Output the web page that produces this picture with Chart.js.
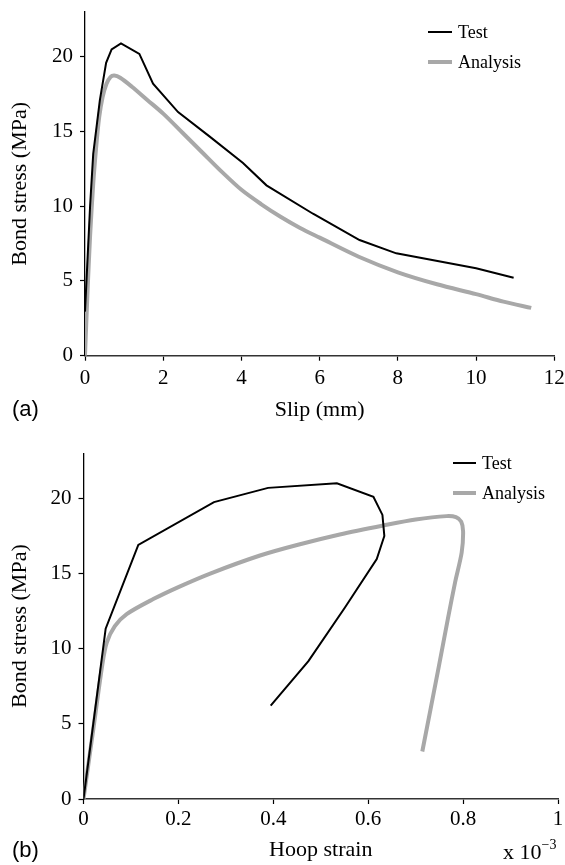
<!DOCTYPE html>
<html>
<head>
<meta charset="utf-8">
<script src="https://cdn.jsdelivr.net/npm/chart.js@4"></script>
<style>
  html, body { margin:0; padding:0; background:#fff; }
  #wrap { position:relative; width:565px; height:865px; overflow:hidden; }
  canvas { position:absolute; left:0; }
  .lbl { position:absolute; white-space:nowrap; color:#000; line-height:1; }
  .serif { font-family:'Liberation Serif','Times New Roman',serif; }
  .sans { font-family:'Liberation Sans',Arial,sans-serif; }
  .lg { position:absolute; height:0; }
</style>
</head>
<body>
<div id="wrap">
  <canvas id="c1" width="565" height="440" style="top:0"></canvas>
  <canvas id="c2" width="565" height="425" style="top:440px"></canvas>

  <!-- legend (a) -->
  <div class="lg" style="left:428px;top:31px;width:24px;border-top:2px solid #000"></div>
  <div class="lbl serif" style="left:458px;top:23px;font-size:18px">Test</div>
  <div class="lg" style="left:428px;top:60px;width:24px;border-top:4px solid #a8a8a8"></div>
  <div class="lbl serif" style="left:458px;top:53px;font-size:18px">Analysis</div>

  <!-- legend (b) -->
  <div class="lg" style="left:453px;top:462px;width:23px;border-top:2px solid #000"></div>
  <div class="lbl serif" style="left:482px;top:454px;font-size:18px">Test</div>
  <div class="lg" style="left:453px;top:491px;width:23px;border-top:4px solid #a8a8a8"></div>
  <div class="lbl serif" style="left:482px;top:484px;font-size:18px">Analysis</div>

  <div class="lbl sans" style="left:12px;top:398px;font-size:22px">(a)</div>
  <div class="lbl sans" style="left:12px;top:839px;font-size:22px">(b)</div>
  <div class="lbl serif" style="left:503px;top:838px;font-size:22px">x 10<sup style="font-size:14px;vertical-align:10px">&minus;3</sup></div>
</div>
<script>
// ---- Data (a): bond stress vs slip ----
const slipTestX   = [0, 0.13, 0.21, 0.38, 0.54, 0.68, 0.92, 1.39, 1.74, 2.38, 3.19, 4.04, 4.64, 5.83, 7.02, 7.96, 10.0, 10.96];
const slipTestY   = [2.95, 10.0, 13.5, 17.1, 19.6, 20.5, 20.9, 20.2, 18.2, 16.3, 14.66, 12.9, 11.4, 9.5, 7.74, 6.85, 5.85, 5.22];
const slipAnaX    = [0, 0.06, 0.13, 0.21, 0.28, 0.36, 0.45, 0.55, 0.65, 0.75, 0.9, 1.2, 1.6, 2.0, 2.5, 3.0, 3.5, 4.0, 4.5, 5.0, 5.5, 6.0, 7.0, 8.0, 9.0, 10.0, 10.7, 11.41];
const slipAnaY    = [0, 4.0, 8.0, 11.5, 13.8, 15.9, 17.3, 18.2, 18.65, 18.75, 18.6, 18.0, 17.1, 16.2, 14.9, 13.6, 12.3, 11.1, 10.15, 9.3, 8.55, 7.9, 6.62, 5.58, 4.78, 4.12, 3.62, 3.2];

// ---- Data (b): bond stress vs hoop strain (x 10^-3) ----
const hoopTestX   = [0, 0.0467, 0.1155, 0.275, 0.389, 0.534, 0.611, 0.630, 0.634, 0.618, 0.551, 0.474, 0.3945];
const hoopTestY   = [0, 11.33, 16.9, 19.75, 20.7, 21.0, 20.1, 18.9, 17.5, 15.97, 12.74, 9.17, 6.21];
const hoopAnaX    = [0, 0.02, 0.04, 0.049, 0.066, 0.091, 0.147, 0.2, 0.267, 0.372, 0.45, 0.54, 0.632, 0.7, 0.765, 0.785, 0.796, 0.800, 0.797, 0.783, 0.768, 0.749, 0.714];
const hoopAnaY    = [0, 4.5, 9.0, 10.4, 11.5, 12.3, 13.3, 14.1, 15.0, 16.2, 16.9, 17.6, 18.2, 18.6, 18.82, 18.75, 18.45, 17.8, 16.4, 14.4, 12.0, 8.84, 3.16];

const xTicksA = [0, 2, 4, 6, 8, 10, 12];
const xTicksB = [0, 0.2, 0.4, 0.6, 0.8, 1];
const yTicks  = [0, 5, 10, 15, 20];

const zip = (xs, ys) => xs.map((x, i) => ({x, y: ys[i]}));
const SERIF = "'Liberation Serif', 'Times New Roman', serif";
const fmt = v => String(Math.round(v * 10) / 10);

function makeChart(id, cfg) {
  const ctx = document.getElementById(id);
  return new Chart(ctx, {
    type: 'scatter',
    data: {
      datasets: [
        { label: 'Test', data: cfg.test, showLine: true, borderColor: '#000', borderWidth: 2, pointRadius: 0, tension: 0, fill: false, order: 1 },
        { label: 'Analysis', data: cfg.ana, showLine: true, borderColor: '#a8a8a8', borderWidth: 4, pointRadius: 0, tension: 0.3, fill: false, order: 2 }
      ]
    },
    options: {
      responsive: false,
      animation: false,
      devicePixelRatio: 1,
      layout: { padding: { left: 0, top: cfg.padTop, right: cfg.padRight, bottom: 0 } },
      plugins: { legend: { display: false }, tooltip: { enabled: false } },
      scales: {
        x: {
          type: 'linear', min: cfg.xMin, max: cfg.xMax,
          afterBuildTicks: s => { s.ticks = cfg.xTicks.map(v => ({value: v})); },
          ticks: { font: { family: SERIF, size: 21 }, color: '#000', padding: cfg.xPad, maxRotation: 0, autoSkip: false, callback: fmt },
          grid: { drawOnChartArea: false, drawTicks: true, tickLength: 5, tickColor: '#000', tickWidth: 1.2 },
          border: { display: true, color: '#333', width: 1.6 },
          title: { display: true, text: cfg.xTitle, color: '#000', font: { family: SERIF, size: 22 }, padding: { top: 0, bottom: cfg.xTitlePad } },
          afterFit: s => { s.height = cfg.xHeight; s.paddingLeft = 0; s.paddingRight = 0; }
        },
        y: {
          type: 'linear', min: 0, max: 23,
          afterBuildTicks: s => { s.ticks = yTicks.map(v => ({value: v})); },
          ticks: { font: { family: SERIF, size: 21 }, color: '#000', padding: 7, callback: fmt },
          grid: { drawOnChartArea: false, drawTicks: true, tickLength: 5, tickColor: '#000', tickWidth: 1.2 },
          border: { display: true, color: '#000', width: 1.3 },
          title: { display: true, text: 'Bond stress (MPa)', color: '#000', font: { family: SERIF, size: 22 }, padding: { top: 7, bottom: 0 } },
          afterFit: s => { s.width = cfg.yWidth; s.paddingTop = 0; s.paddingBottom = 0; }
        }
      }
    }
  });
}

makeChart('c1', {
  test: zip(slipTestX, slipTestY), ana: zip(slipAnaX, slipAnaY),
  xMin: 0, xMax: 12, xTicks: xTicksA, xTitle: 'Slip (mm)',
  padTop: 12, padRight: 10.7, xHeight: 84.3, yWidth: 85, xPad: 5, xTitlePad: 17
});
makeChart('c2', {
  test: zip(hoopTestX, hoopTestY), ana: zip(hoopAnaX, hoopAnaY),
  xMin: 0, xMax: 1, xTicks: xTicksB, xTitle: 'Hoop strain',
  padTop: 13.3, padRight: 7, xHeight: 66, yWidth: 83.5, xPad: 3, xTitlePad: 2
});
</script>
</body>
</html>
